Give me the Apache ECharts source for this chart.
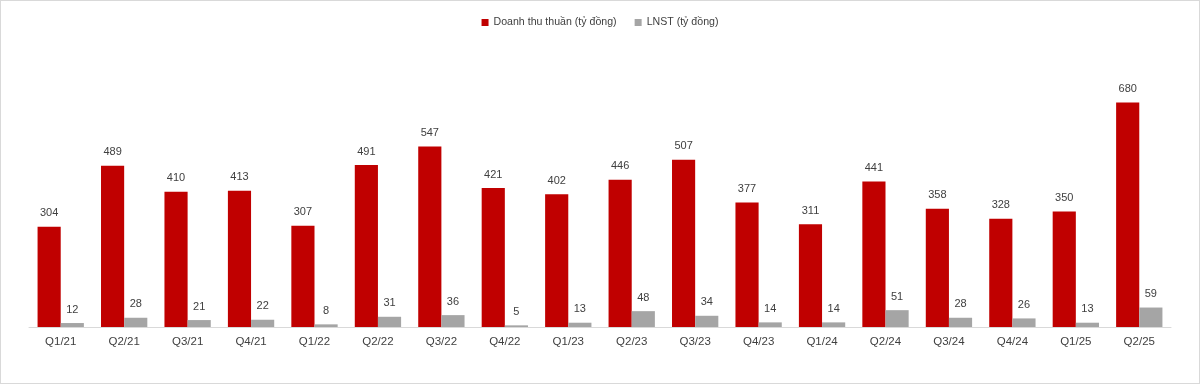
<!DOCTYPE html>
<html><head><meta charset="utf-8">
<script src="https://cdn.jsdelivr.net/npm/echarts@6/dist/echarts.min.js"></script>
<style>html,body{margin:0;padding:0;background:#fff}#c{width:1200px;height:384px;box-sizing:border-box;border:1px solid #d9d9d9}</style>
</head><body><div id="c"></div>
<script>
const categories = ['Q1/21','Q2/21','Q3/21','Q4/21','Q1/22','Q2/22','Q3/22','Q4/22','Q1/23','Q2/23','Q3/23','Q4/23','Q1/24','Q2/24','Q3/24','Q4/24','Q1/25','Q2/25'];
const revenue = [304,489,410,413,307,491,547,421,402,446,507,377,311,441,358,328,350,680];
const profit = [12,28,21,22,8,31,36,5,13,48,34,14,14,51,28,26,13,59];
const seriesNames = ['Doanh thu thuần (tỷ đồng)','LNST (tỷ đồng)'];

const chart = echarts.init(document.getElementById('c'));
const lbl = {show:true, position:'top', distance:8, color:'#404040', fontSize:11, fontFamily:'Liberation Sans, Arial, sans-serif'};
chart.setOption({
  animation:false,
  legend:{top:11, left:'center', itemWidth:7, itemHeight:7, itemGap:18, icon:'rect',
    textStyle:{color:'#404040', fontSize:10.6, fontFamily:'Liberation Sans, Arial, sans-serif'}},
  grid:{left:28, right:28, top:95, bottom:56, containLabel:false},
  xAxis:{type:'category', data:categories,
    axisLine:{lineStyle:{color:'#d9d9d9'}}, axisTick:{show:false},
    axisLabel:{color:'#404040', fontSize:11.5, margin:9, fontFamily:'Liberation Sans, Arial, sans-serif'}},
  yAxis:{type:'value', min:0, max:700, show:false, splitLine:{show:false}},
  series:[
    {name:seriesNames[0], type:'bar', data:revenue, barGap:'0%', barCategoryGap:'27%', itemStyle:{color:'#c00000'}, label:lbl},
    {name:seriesNames[1], type:'bar', data:profit, itemStyle:{color:'#a5a5a5'}, label:lbl}
  ]
});
</script></body></html>
